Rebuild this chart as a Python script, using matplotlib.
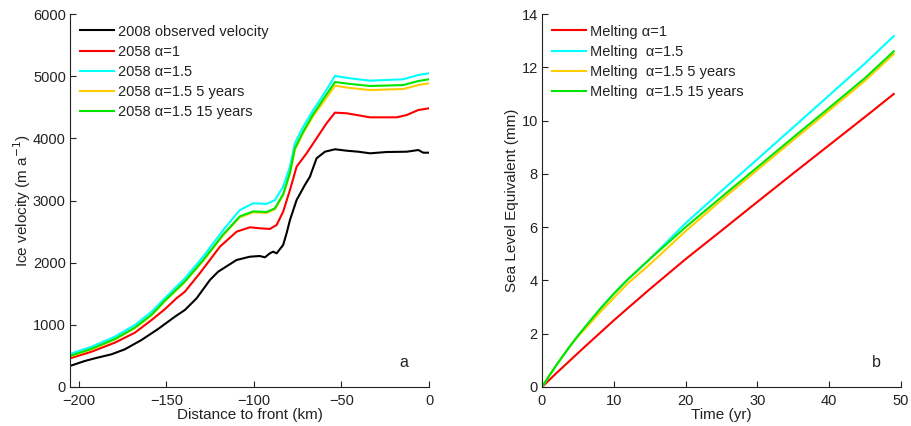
import matplotlib
matplotlib.use("Agg")
import matplotlib.pyplot as plt

plt.rcParams['font.family'] = ['Liberation Sans', 'DejaVu Sans']
plt.rcParams['font.size'] = 10
plt.rcParams['axes.unicode_minus'] = True

TXT = '#222222'

# --- panel a: velocity along flowline ---
obs_km = [-205.1, -196.6, -190.9, -181.3, -173.7, -164.2, -154.7, -145.1, -139.4,
          -132.7, -125.1, -120.4, -109.9, -102.3, -96.6, -93.7, -90.9, -89.0, -87.0,
          -83.3, -81.3, -79.4, -75.6, -70.9, -68.0, -64.2, -59.4, -53.7, -47.0,
          -40.4, -33.7, -24.2, -12.7, -6.1, -3.3, 0.0]
obs_vel = [338, 418, 461, 526, 606, 756, 933, 1131, 1239,
           1427, 1721, 1855, 2043, 2096, 2107, 2086, 2150, 2177, 2150,
           2284, 2475, 2686, 3008, 3249, 3383, 3679, 3785, 3824, 3801,
           3785, 3759, 3780, 3785, 3812, 3769, 3769]

a1_km = [-205.0, -192.7, -179.4, -168.0, -158.4, -150.9, -144.2, -139.4, -130.9,
         -119.4, -109.9, -102.3, -96.6, -90.9, -87.0, -83.3, -79.4, -75.6, -69.9,
         -62.3, -58.5, -53.7, -47.0, -33.7, -18.5, -12.7, -6.1, 0.0]
vel_a1 = [461, 568, 713, 873, 1078, 1250, 1427, 1533, 1829,
          2257, 2498, 2569, 2553, 2542, 2606, 2820, 3169, 3544, 3759,
          4081, 4242, 4413, 4403, 4338, 4338, 4375, 4456, 4483]

a15_km = [-205.0, -192.7, -179.4, -168.0, -158.4, -150.9, -139.4, -129.0, -117.5,
          -108.0, -100.4, -92.7, -88.0, -83.3, -79.4, -76.6, -71.8, -66.1, -60.4,
          -53.7, -45.1, -33.7, -14.7, -6.1, 0.0]
vel_a15 = [531, 648, 809, 997, 1211, 1427, 1748, 2096, 2525,
           2847, 2955, 2945, 3008, 3222, 3544, 3920, 4187, 4456, 4697,
           5003, 4966, 4927, 4950, 5019, 5046]
vel_a15_5 = [490, 606, 762, 945, 1153, 1376, 1688, 2027, 2440,
             2730, 2810, 2800, 2860, 3085, 3430, 3815, 4085, 4360, 4580,
             4847, 4810, 4777, 4793, 4858, 4885]
vel_a15_15 = [499, 615, 772, 955, 1165, 1388, 1700, 2040, 2455,
              2745, 2825, 2815, 2874, 3100, 3450, 3840, 4110, 4390, 4630,
              4906, 4875, 4842, 4857, 4922, 4950]

# --- panel b: sea level contribution ---
years = [0, 1, 2, 3, 4, 5, 6, 8, 10, 12, 15, 20, 25, 30, 35, 40, 45, 49]
sle_a1 = [0, 0.26, 0.52, 0.77, 1.02, 1.27, 1.52, 2.01, 2.5, 2.97, 3.67, 4.8, 5.87, 6.95, 8.02, 9.08, 10.14, 11.0]
sle_a15 = [0, 0.42, 0.82, 1.2, 1.57, 1.92, 2.25, 2.9, 3.5, 4.05, 4.8, 6.15, 7.36, 8.55, 9.75, 10.95, 12.15, 13.17]
sle_a15_5 = [0, 0.42, 0.82, 1.2, 1.57, 1.9, 2.18, 2.78, 3.35, 3.9, 4.6, 5.85, 7.02, 8.15, 9.27, 10.38, 11.5, 12.5]
sle_a15_15 = [0, 0.42, 0.82, 1.2, 1.57, 1.92, 2.25, 2.9, 3.5, 4.05, 4.8, 6.0, 7.13, 8.25, 9.37, 10.48, 11.6, 12.6]

RED = '#FF0000'
CYAN = '#00FFFF'
ORANGE = '#FFCC00'
GREEN = '#00E600'

fig = plt.figure(figsize=(9.11, 4.26), dpi=100)
ax1 = fig.add_axes([70 / 911, 1 - 387 / 426, 359 / 911, 373 / 426])
ax2 = fig.add_axes([542 / 911, 1 - 387 / 426, 359 / 911, 373 / 426])

lw = 1.5
ax1.plot(obs_km, obs_vel, color='black', lw=lw, label='2008 observed velocity')
ax1.plot(a1_km, vel_a1, color=RED, lw=lw, label='2058 α=1')
ax1.plot(a15_km, vel_a15, color=CYAN, lw=lw, label='2058 α=1.5')
ax1.plot(a15_km, vel_a15_5, color=ORANGE, lw=lw, label='2058 α=1.5 5 years')
ax1.plot(a15_km, vel_a15_15, color=GREEN, lw=lw, label='2058 α=1.5 15 years')
ax1.set_xlim(-205, 0)
ax1.set_ylim(0, 6000)
ax1.set_xticks([-200, -150, -100, -50, 0])
ax1.set_yticks(range(0, 6001, 1000))
ax1.set_xlabel('Distance to front (km)', color=TXT, labelpad=0, fontsize=11)
ax1.set_ylabel('Ice velocity (m a$^{-1}$)', color=TXT, labelpad=0, fontsize=11)
ax1.text(0.93, 0.065, 'a', transform=ax1.transAxes, ha='center', va='center',
         fontsize=11.5, color=TXT)

ax2.plot(years, sle_a1, color=RED, lw=lw, label='Melting α=1')
ax2.plot(years, sle_a15, color=CYAN, lw=lw, label='Melting  α=1.5')
ax2.plot(years, sle_a15_5, color=ORANGE, lw=lw, label='Melting  α=1.5 5 years')
ax2.plot(years, sle_a15_15, color=GREEN, lw=lw, label='Melting  α=1.5 15 years')
ax2.set_xlim(0, 50)
ax2.set_ylim(0, 14)
ax2.set_xticks(range(0, 51, 10))
ax2.set_yticks(range(0, 15, 2))
ax2.set_xlabel('Time (yr)', color=TXT, labelpad=0, fontsize=11)
ax2.set_ylabel('Sea Level Equivalent (mm)', color=TXT, labelpad=2, fontsize=11)
ax2.text(0.93, 0.067, 'b', transform=ax2.transAxes, ha='center', va='center',
         fontsize=11.5, color=TXT)

for ax in (ax1, ax2):
    ax.spines['top'].set_visible(False)
    ax.spines['right'].set_visible(False)
    ax.spines['left'].set_color(TXT)
    ax.spines['bottom'].set_color(TXT)
    ax.tick_params(direction='in', length=4, width=0.8, colors=TXT, labelsize=10.5)
    ax.tick_params(axis='x', pad=5)
    ax.tick_params(axis='y', pad=3)
    leg = ax.legend(loc='upper left', frameon=False, handlelength=2.3,
                    handletextpad=0.3, labelspacing=0.42, fontsize=10.5,
                    borderaxespad=0.3, bbox_to_anchor=(0.0, 0.999))
    for t in leg.get_texts():
        t.set_color(TXT)

fig.savefig('out.png', dpi=100)
